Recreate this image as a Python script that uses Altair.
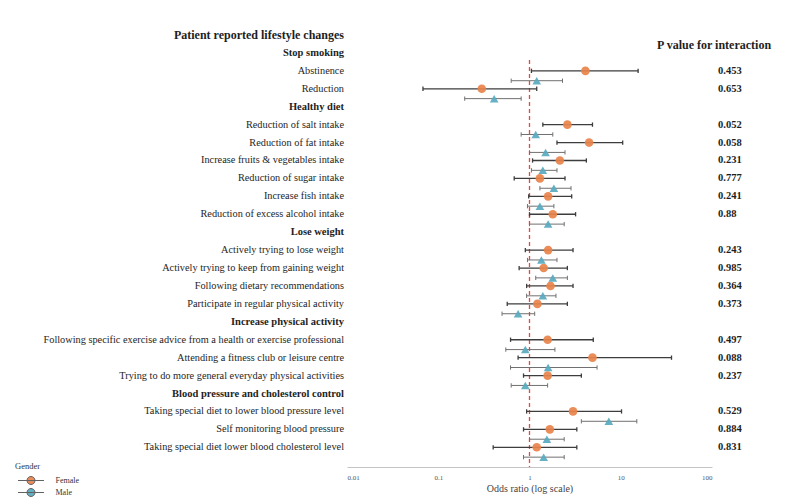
import altair as alt
import pandas as pd

# ---- data -------------------------------------------------------------
row_labels = [
    "Patient reported lifestyle changes",
    "Stop smoking",
    "Abstinence",
    "Reduction",
    "Healthy diet",
    "Reduction of salt intake",
    "Reduction of fat intake",
    "Increase fruits & vegetables intake",
    "Reduction of sugar intake",
    "Increase fish intake",
    "Reduction of excess alcohol intake",
    "Lose weight",
    "Actively trying to lose weight",
    "Actively trying to keep from gaining weight",
    "Following dietary recommendations",
    "Participate in regular physical activity",
    "Increase physical activity",
    "Following specific exercise advice from a health or exercise professional",
    "Attending a fitness club or leisure centre",
    "Trying to do more general everyday physical activities",
    "Blood pressure and cholesterol control",
    "Taking special diet to lower blood pressure level",
    "Self monitoring blood pressure",
    "Taking special diet lower blood cholesterol level",
]
header_rows = [1, 4, 11, 16, 20]

# rows that carry estimates
item_rows = [2, 3, 5, 6, 7, 8, 9, 10, 12, 13, 14, 15, 17, 18, 19, 21, 22, 23]

female_or = [4.1, 0.30, 2.6, 4.5, 2.15, 1.3, 1.6, 1.8, 1.6, 1.43, 1.7, 1.22, 1.58, 4.9, 1.58, 3.0, 1.67, 1.2]
female_lo = [1.05, 0.068, 1.4, 2.0, 1.08, 0.68, 0.98, 1.0, 0.9, 0.77, 0.93, 0.57, 0.62, 0.75, 0.86, 0.93, 0.86, 0.4]
female_hi = [15.5, 1.2, 4.9, 10.5, 4.2, 2.45, 2.9, 3.2, 3.0, 2.6, 3.0, 2.6, 5.0, 36.0, 3.7, 10.2, 3.3, 3.3]

male_or = [1.2, 0.41, 1.17, 1.5, 1.4, 1.85, 1.3, 1.6, 1.35, 1.8, 1.4, 0.75, 0.9, 1.6, 0.9, 7.4, 1.55, 1.43]
male_lo = [0.63, 0.195, 0.81, 1.0, 1.05, 1.3, 0.95, 1.0, 0.95, 1.17, 0.93, 0.5, 0.55, 0.62, 0.63, 3.7, 1.0, 0.86]
male_hi = [2.3, 0.81, 1.8, 2.45, 2.0, 2.85, 1.85, 2.4, 2.0, 2.6, 1.95, 1.14, 1.9, 5.5, 1.58, 15.0, 2.4, 2.4]

p_values = ["0.453", "0.653", "0.052", "0.058", "0.231", "0.777", "0.241", "0.88", "0.243",
            "0.985", "0.364", "0.373", "0.497", "0.088", "0.237", "0.529", "0.884", "0.831"]

x_ticks = [0.01, 0.1, 1, 10, 100]
sexes = ["Female", "Male"]
male_shift = 0.55  # male estimate sits just below the female one

# ---- tables -----------------------------------------------------------
est = pd.DataFrame(
    [{"sex": "Female", "y": r, "est": e, "lo": l, "hi": h}
     for r, e, l, h in zip(item_rows, female_or, female_lo, female_hi)]
    + [{"sex": "Male", "y": r + male_shift, "est": e, "lo": l, "hi": h}
       for r, e, l, h in zip(item_rows, male_or, male_lo, male_hi)]
)
labels = pd.DataFrame({"y": list(range(len(row_labels))), "label": row_labels})
labels["kind"] = ["title" if i == 0 else ("header" if i in header_rows else "item")
                  for i in range(len(row_labels))]
pv = pd.DataFrame({"y": item_rows, "p": p_values})
ref = pd.DataFrame({"x": [1.0], "y": [1.4], "y2": [24.1]})

SERIF = "Liberation Serif"
ORANGE = "#E8834A"
TEAL = "#58A9BF"

xscale = alt.Scale(type="log", domain=[0.01, 100], nice=False)
yscale = alt.Scale(domain=[0, 24.1], reverse=True, nice=False, zero=False)
xaxis = alt.Axis(values=x_ticks, format="~g", ticks=False, grid=False,
                 domainColor="#c4c4c4", labelColor="#555", labelFontSize=7,
                 labelFont=SERIF, labelPadding=6, title="Odds ratio (log scale)",
                 titleFont=SERIF, titleFontSize=10, titleFontWeight="normal",
                 titleColor="#444", titlePadding=3)
Y = alt.Y("y:Q", scale=yscale, axis=None)


def X(field):
    return alt.X(f"{field}:Q", scale=xscale, axis=xaxis, title="Odds ratio (log scale)")


# dashed line of no effect
ref_line = alt.Chart(ref).mark_rule(stroke="#E8473C", strokeDash=[4, 3], strokeWidth=1.3,
                                    opacity=1).encode(x=X("x"), y=Y, y2="y2:Q")

# confidence intervals with end caps
base = alt.Chart(est).transform_calculate(
    ya="datum.y - 0.12", yb="datum.y + 0.12")
ci_parts = []
for sex, col, w in [("Female", "#3d3d3d", 1.3), ("Male", "#707070", 1.0)]:
    b = base.transform_filter(alt.datum.sex == sex)
    ci_parts.append(b.mark_rule(color=col, strokeWidth=w).encode(x=X("lo"), x2="hi:Q", y=Y))
    ci_parts.append(b.mark_rule(color=col, strokeWidth=w).encode(
        x=X("lo"), y=alt.Y("ya:Q", scale=yscale, axis=None), y2="yb:Q"))
    ci_parts.append(b.mark_rule(color=col, strokeWidth=w).encode(
        x=X("hi"), y=alt.Y("ya:Q", scale=yscale, axis=None), y2="yb:Q"))

# legend entry: whisker line with a marker in the middle
legend_symbol = "M-2.6,0L2.6,0M0.8,0A0.8,0.8,0,1,1,-0.8,0A0.8,0.8,0,1,1,0.8,0Z"
color_enc = alt.Color(
    "sex:N", scale=alt.Scale(domain=sexes, range=[ORANGE, TEAL]),
    legend=alt.Legend(orient="none", legendX=-321.5, legendY=440, title=None,
                      symbolType=legend_symbol, symbolSize=100,
                      symbolStrokeColor="#555", symbolStrokeWidth=1,
                      labelFont=SERIF, labelFontSize=8, labelColor="#333",
                      labelOffset=19, rowPadding=-1, padding=0))

points_f = alt.Chart(est).transform_filter(alt.datum.sex == "Female").mark_point(
    filled=True, opacity=0.92, size=75, shape="circle").encode(
    x=X("est"), y=Y, color=color_enc)
points_m = alt.Chart(est).transform_filter(alt.datum.sex == "Male").mark_point(
    filled=True, opacity=0.92, size=75, shape="triangle-up").encode(
    x=X("est"), y=Y, color=color_enc)


# row labels left of the panel
def label_layer(kind, weight, size):
    return alt.Chart(labels).transform_filter(alt.datum.kind == kind).mark_text(
        align="right", baseline="middle", font=SERIF, fontSize=size,
        fontWeight=weight, fill="#1e1e1e", dx=-3).encode(
        x=alt.value(0), y=Y, text="label:N")


title_txt = label_layer("title", "bold", 12)
header_txt = label_layer("header", "bold", 10.5)
item_txt = label_layer("item", "normal", 10.3)

p_txt = alt.Chart(pv).mark_text(align="left", baseline="middle", font=SERIF, fontSize=10.5,
                                fontWeight="bold", fill="#1e1e1e").encode(
    x=alt.value(371), y=Y, text="p:N")

p_head = alt.Chart(pd.DataFrame({"t": ["P value for interaction"]})).mark_text(
    align="left", baseline="middle", font=SERIF, fontSize=12, fontWeight="bold",
    fill="#1e1e1e").encode(x=alt.value(310), y=alt.value(10), text="t:N")

gender_title = alt.Chart(pd.DataFrame({"t": ["Gender"]})).mark_text(
    align="left", baseline="middle", font=SERIF, fontSize=8.5, fill="#333333").encode(
    x=alt.value(-332), y=alt.value(431), text="t:N")

chart = alt.layer(
    ref_line, *ci_parts, points_f, points_m, title_txt, header_txt, item_txt,
    p_txt, p_head, gender_title
).properties(
    width=365, height=432,
    autosize=alt.AutoSizeParams(type="none"),
    padding={"left": 347, "top": 35, "right": 83, "bottom": 34},
    background="white",
).configure_view(stroke=None)

chart.save("out.html", embed_options={"renderer": "svg", "actions": False})
